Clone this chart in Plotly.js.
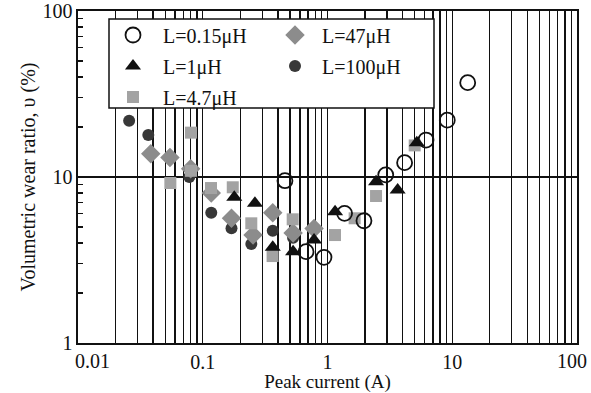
<!DOCTYPE html>
<html>
<head>
<meta charset="utf-8">
<script src="https://cdn.plot.ly/plotly-3.0.1.min.js"></script>
<style>html,body{margin:0;padding:0;background:#fff;}#chart{width:591px;height:393px;}</style>
</head>
<body>
<div id="chart"></div>
<script>
// Peak current (A) and volumetric wear ratio (%) for each inductance
const seriesNames = ["L=0.15μH", "L=1μH", "L=4.7μH", "L=47μH", "L=100μH"];

const currentL015 = [0.456, 0.673, 0.937, 1.37, 1.96, 2.93, 4.15, 6.16, 9.12, 13.3];
const ratioL015   = [9.5, 3.55, 3.28, 6.04, 5.45, 10.3, 12.2, 16.7, 22.0, 37.0];

const currentL1 = [0.179, 0.262, 0.364, 0.53, 0.78, 1.15, 2.45, 3.65, 5.2];
const ratioL1   = [7.55, 6.94, 3.77, 3.55, 4.17, 6.18, 9.37, 8.35, 16.1];

const currentL47u = [0.055, 0.0805, 0.0805, 0.1165, 0.174, 0.245, 0.363, 0.526, 1.148, 1.65, 2.45, 5.0];
const ratioL47u   = [9.2, 18.5, 10.9, 8.58, 8.67, 5.26, 3.34, 5.56, 4.47, 5.64, 7.68, 15.5];

const currentL47 = [0.0383, 0.0546, 0.08, 0.117, 0.170, 0.253, 0.364, 0.53, 0.78];
const ratioL47   = [13.8, 13.1, 11.2, 8.0, 5.64, 4.47, 6.1, 4.6, 4.9];

const currentL100 = [0.0257, 0.0366, 0.078, 0.117, 0.170, 0.245, 0.364, 0.53];
const ratioL100   = [21.8, 17.9, 10.0, 6.1, 4.91, 3.95, 4.75, 4.3];

const xTickVals = [0.01, 0.1, 1, 10, 100];
const xTickText = ["0.01", "0.1", "1", "10", "100"];
const yTickVals = [1, 10, 100];
const yTickText = ["1", "10", "100"];

const FONT = "Liberation Serif, Times New Roman, serif";
const FS = 20;

const traces = [
  {x: currentL100, y: ratioL100, name: seriesNames[4], legend: "legend5",
   marker: {symbol: "circle", size: 12, color: "#383838", line: {width: 0}}},
  {x: currentL47, y: ratioL47, name: seriesNames[3], legend: "legend4",
   marker: {symbol: "diamond", size: 15, color: "#8c8c8c", line: {width: 0}}},
  {x: currentL47u, y: ratioL47u, name: seriesNames[2], legend: "legend3",
   marker: {symbol: "square", size: 12, color: "#a3a3a3", line: {width: 0}}},
  {x: currentL1, y: ratioL1, name: seriesNames[1], legend: "legend2",
   marker: {symbol: "triangle-up", size: 14, color: "#111111", line: {width: 0}}},
  {x: currentL015, y: ratioL015, name: seriesNames[0], legend: "legend",
   marker: {symbol: "circle-open", size: 15, color: "#111111", line: {width: 1.8, color: "#111111"}}}
].map(t => Object.assign({type: "scatter", mode: "markers", cliponaxis: false}, t));

// plot area in pixels: x 78..577, y 11..343
const W = 591, H = 393, L = 78, R = 14, T = 11, B = 50;
const pw = W - L - R, ph = H - T - B;
const px = v => (v - L) / pw;
const py = v => (H - B - v) / ph;

function leg(xpix, ypix, iw) {
  return {x: px(xpix), y: py(ypix), xanchor: "left", yanchor: "middle",
    bgcolor: "rgba(0,0,0,0)", borderwidth: 0, itemwidth: iw,
    font: {family: FONT, size: FS, color: "#111"}};
}

// the first and last x tick labels sit inward of their ticks, as in the original
const nX = xTickVals.length;
const edgeLabels = [
  {text: xTickText[0], x: Math.log10(xTickVals[0]), xanchor: "left", xshift: -4},
  {text: xTickText[nX - 1], x: Math.log10(xTickVals[nX - 1]), xanchor: "right", xshift: 11}
].map(a => Object.assign({xref: "x", yref: "paper", y: 0, yanchor: "middle", yshift: -18,
  showarrow: false, borderpad: 0, font: {family: FONT, size: FS, color: "#111"}}, a));

const layout = {
  width: W, height: H,
  margin: {l: L, r: R, t: T, b: B},
  paper_bgcolor: "#fff", plot_bgcolor: "#fff",
  showlegend: true,
  font: {family: FONT, size: FS, color: "#111"},
  xaxis: {
    type: "log", range: [-2, 2],
    tickmode: "array", tickvals: xTickVals.slice(1, nX - 1), ticktext: xTickText.slice(1, nX - 1),
    showgrid: true, gridcolor: "#111", gridwidth: 1.4,
    minor: {dtick: "D1", showgrid: true, gridcolor: "#111", gridwidth: 1.4, ticks: ""},
    showline: true, mirror: true, linecolor: "#111", linewidth: 1.6,
    ticks: "", zeroline: false, ticklabelstandoff: 0,
    tickfont: {family: FONT, size: FS, color: "#111"},
    title: {text: "Peak current (A)", font: {family: FONT, size: 19, color: "#111"}, standoff: 10},
    automargin: false
  },
  yaxis: {
    type: "log", range: [0, 2],
    tickmode: "array", tickvals: yTickVals, ticktext: yTickText,
    showgrid: true, gridcolor: "#111", gridwidth: 1.4,
    minor: {dtick: "D1", showgrid: false, ticks: "inside", ticklen: 5, tickcolor: "#111", tickwidth: 1.2},
    showline: true, mirror: true, linecolor: "#111", linewidth: 1.6,
    ticks: "inside", ticklen: 5, tickcolor: "#111",
    zeroline: false, ticklabeloverflow: "allow",
    tickfont: {family: FONT, size: FS, color: "#111"},
    title: {text: "Volumetric wear ratio, υ (%)", font: {family: FONT, size: FS, color: "#111"}, standoff: 1},
    automargin: false
  },
  annotations: edgeLabels,
  shapes: [{
    type: "rect", xref: "paper", yref: "paper", layer: "above",
    x0: px(109), x1: px(434), y0: py(108), y1: py(19),
    fillcolor: "#fff", line: {color: "#111", width: 1.5}
  }],
  legend:  leg(103, 35, 50),
  legend2: leg(103, 66, 50),
  legend3: leg(103, 97, 50),
  legend4: leg(268, 35, 44),
  legend5: leg(268, 66, 44)
};

Plotly.newPlot("chart", traces, layout, {displayModeBar: false, staticPlot: true});
</script>
</body>
</html>
